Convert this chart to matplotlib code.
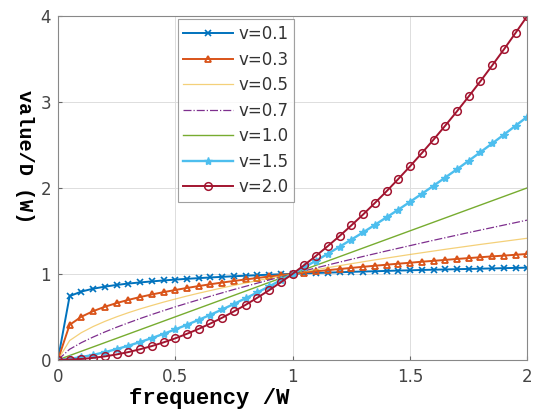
import matplotlib
matplotlib.use('Agg')
import matplotlib.pyplot as plt

# frequency grid (W) and curves, one per v
freq = [0.00, 0.05, 0.10, 0.15, 0.20, 0.25, 0.30, 0.35, 0.40, 0.45,
        0.50, 0.55, 0.60, 0.65, 0.70, 0.75, 0.80, 0.85, 0.90, 0.95,
        1.00, 1.05, 1.10, 1.15, 1.20, 1.25, 1.30, 1.35, 1.40, 1.45,
        1.50, 1.55, 1.60, 1.65, 1.70, 1.75, 1.80, 1.85, 1.90, 1.95, 2.00]

v01 = [0.000, 0.741, 0.794, 0.827, 0.851, 0.871, 0.887, 0.900, 0.912, 0.923,
       0.933, 0.942, 0.950, 0.958, 0.965, 0.972, 0.978, 0.984, 0.990, 0.995,
       1.000, 1.005, 1.010, 1.014, 1.018, 1.023, 1.027, 1.030, 1.034, 1.038,
       1.041, 1.045, 1.048, 1.051, 1.054, 1.057, 1.060, 1.063, 1.066, 1.069, 1.072]
v03 = [0.000, 0.407, 0.501, 0.566, 0.617, 0.660, 0.697, 0.730, 0.760, 0.787,
       0.812, 0.836, 0.858, 0.879, 0.899, 0.917, 0.935, 0.952, 0.969, 0.985,
       1.000, 1.015, 1.029, 1.043, 1.056, 1.069, 1.082, 1.094, 1.106, 1.118,
       1.129, 1.141, 1.151, 1.162, 1.173, 1.183, 1.193, 1.203, 1.212, 1.222, 1.231]
v05 = [0.000, 0.224, 0.316, 0.387, 0.447, 0.500, 0.548, 0.592, 0.632, 0.671,
       0.707, 0.742, 0.775, 0.806, 0.837, 0.866, 0.894, 0.922, 0.949, 0.975,
       1.000, 1.025, 1.049, 1.072, 1.095, 1.118, 1.140, 1.162, 1.183, 1.204,
       1.225, 1.245, 1.265, 1.285, 1.304, 1.323, 1.342, 1.360, 1.378, 1.396, 1.414]
v07 = [0.000, 0.123, 0.200, 0.265, 0.324, 0.379, 0.430, 0.480, 0.527, 0.572,
       0.616, 0.658, 0.699, 0.740, 0.779, 0.818, 0.855, 0.892, 0.929, 0.965,
       1.000, 1.035, 1.069, 1.103, 1.136, 1.169, 1.202, 1.234, 1.266, 1.297,
       1.328, 1.359, 1.390, 1.420, 1.450, 1.480, 1.509, 1.538, 1.567, 1.596, 1.625]
v10 = [0.00, 0.05, 0.10, 0.15, 0.20, 0.25, 0.30, 0.35, 0.40, 0.45,
       0.50, 0.55, 0.60, 0.65, 0.70, 0.75, 0.80, 0.85, 0.90, 0.95,
       1.00, 1.05, 1.10, 1.15, 1.20, 1.25, 1.30, 1.35, 1.40, 1.45,
       1.50, 1.55, 1.60, 1.65, 1.70, 1.75, 1.80, 1.85, 1.90, 1.95, 2.00]
v15 = [0.000, 0.011, 0.032, 0.058, 0.089, 0.125, 0.164, 0.207, 0.253, 0.302,
       0.354, 0.408, 0.465, 0.524, 0.586, 0.650, 0.716, 0.784, 0.854, 0.926,
       1.000, 1.076, 1.154, 1.233, 1.315, 1.398, 1.482, 1.569, 1.657, 1.746,
       1.837, 1.930, 2.024, 2.120, 2.216, 2.315, 2.415, 2.516, 2.619, 2.723, 2.828]
v20 = [0.000, 0.003, 0.010, 0.023, 0.040, 0.063, 0.090, 0.123, 0.160, 0.203,
       0.250, 0.303, 0.360, 0.423, 0.490, 0.563, 0.640, 0.723, 0.810, 0.903,
       1.000, 1.103, 1.210, 1.323, 1.440, 1.563, 1.690, 1.823, 1.960, 2.103,
       2.250, 2.403, 2.560, 2.723, 2.890, 3.063, 3.240, 3.423, 3.610, 3.803, 4.000]

labels = ['v=0.1', 'v=0.3', 'v=0.5', 'v=0.7', 'v=1.0', 'v=1.5', 'v=2.0']
series = [v01, v03, v05, v07, v10, v15, v20]
x_ticks = [0, 0.5, 1, 1.5, 2]
x_tick_labels = ['0', '0.5', '1', '1.5', '2']
y_ticks = [0, 1, 2, 3, 4]

styles = [
    dict(color='#0072BD', marker='x', ms=4, mew=1.2, lw=1.4),
    dict(color='#D95319', marker='^', ms=5, mew=1.3, lw=1.4, mfc='none'),
    dict(color='#EDB120', lw=0.9, alpha=0.6),
    dict(color='#7E2F8E', ls='-.', lw=0.9),
    dict(color='#77AC30', lw=1.0),
    dict(color='#4DBEEE', marker='*', ms=6, mew=1.0, lw=1.7),
    dict(color='#A2142F', marker='o', ms=5.5, mew=1.1, lw=1.4, mfc='none'),
]

fig = plt.figure(figsize=(5.36, 4.16), dpi=100)
ax = fig.add_axes([0.108, 0.135, 0.876, 0.827])

for ys, lab, st in zip(series, labels, styles):
    ax.plot(freq, ys, label=lab, **st)

ax.set_xlim(0, 2)
ax.set_ylim(0, 4)
ax.set_xticks(x_ticks)
ax.set_xticklabels(x_tick_labels)
ax.set_yticks(y_ticks)
ax.grid(True, color='#dddddd', lw=0.7)
ax.set_axisbelow(True)
ax.tick_params(direction='in', length=3, colors='#666666', labelsize=12,
               labelcolor='#444444')
ax.tick_params(axis='x', pad=6)
ax.tick_params(axis='y', pad=5)
for sp in ax.spines.values():
    sp.set_color('#888888')
    sp.set_linewidth(0.8)

mono = dict(family=['Liberation Mono'], weight='bold')
fig.text(0.39, 0.041, 'frequency /W', ha='center', va='center', size=16, **mono)
fig.text(0.045, 0.623, 'value/D (W)', rotation=270, ha='center', va='center',
         size=14.5, **mono)

leg = ax.legend(loc='upper left', bbox_to_anchor=(0.255, 0.99), fontsize=12,
                frameon=True, fancybox=False, edgecolor='#888888',
                handlelength=3.0, labelspacing=0.45, borderpad=0.35,
                handletextpad=0.3, borderaxespad=0)
leg.get_frame().set_linewidth(0.8)
for t in leg.get_texts():
    t.set_color('#333333')

fig.savefig('out.png', dpi=100)
